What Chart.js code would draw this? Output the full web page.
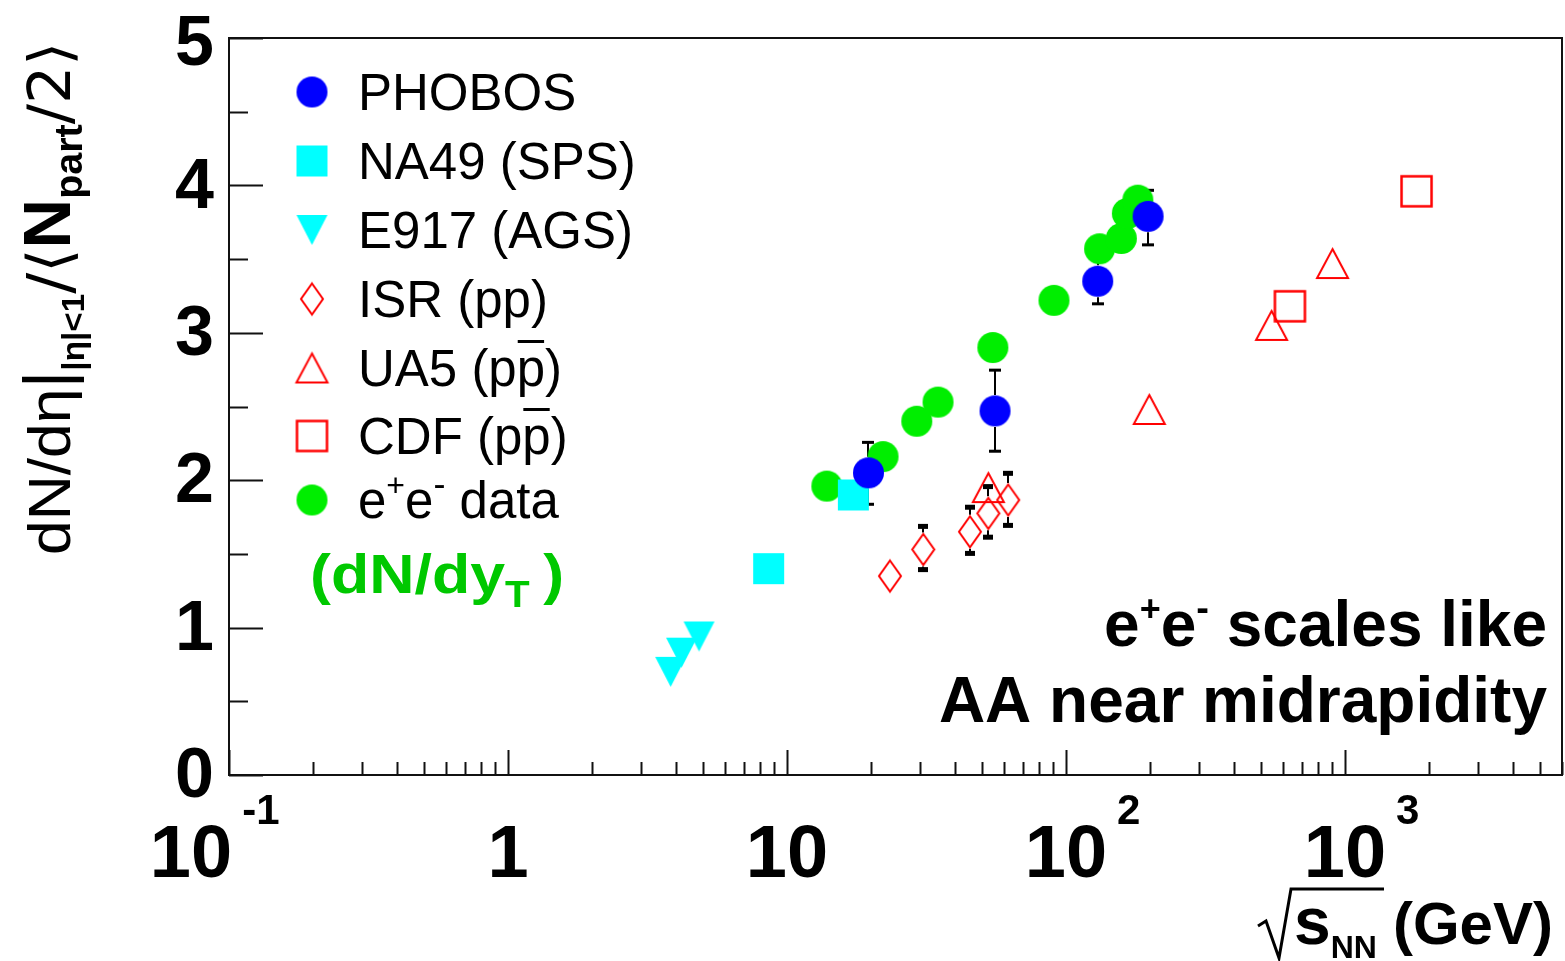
<!DOCTYPE html>
<html>
<head>
<meta charset="utf-8">
<script src="https://cdn.jsdelivr.net/npm/chart.js@4.4.1/dist/chart.umd.min.js"></script>
<style>
  html, body { margin: 0; padding: 0; background: #fff; }
  #wrap { width: 1565px; height: 961px; }
</style>
</head>
<body>
<div id="wrap"><canvas id="chart" width="1565" height="961"></canvas></div>
<script>
// ==========================================
// 1. DATA
// ==========================================

// PHOBOS (Au+Au)
const phobosX = [19.6, 55.7, 130, 197];
const phobosY = [2.05, 2.47, 3.35, 3.79];
const phobosLo = [1.84, 2.20, 3.20, 3.60];
const phobosHi = [2.26, 2.75, 3.51, 3.97];

// NA49 (SPS)
const na49X = [8.6, 17.3];
const na49Y = [1.40, 1.90];

// E917 (AGS)
const e917X = [3.83, 4.19, 4.84];
const e917Y = [0.70, 0.83, 0.94];

// ISR (pp)
const isrX = [23.4, 30.8, 45.3, 52.7, 62.1];
const isrY = [1.35, 1.53, 1.65, 1.775, 1.866];
const isrLo = [null, 1.39, 1.50, 1.61, 1.69];
const isrHi = [null, 1.69, 1.82, 1.96, 2.05];

// UA5 (p pbar)
const ua5X = [52.7, 199, 546, 903];
const ua5Y = [1.95, 2.48, 3.05, 3.47];

// CDF (p pbar)
const cdfX = [635, 1806];
const cdfY = [3.18, 3.96];

// e+e- data
const eeX = [13.9, 22.1, 29.2, 34.8, 54.7, 90.6, 132, 158, 166, 181];
const eeY = [1.96, 2.16, 2.40, 2.53, 2.90, 3.22, 3.57, 3.64, 3.81, 3.90];

// axis ticks
const xMajor = [0.1, 1, 10, 100, 1000];
const xTickBase = ['10', '1', '10', '10', '10'];
const xTickExp = ['-1', '', '', '2', '3'];
const yMajor = [0, 1, 2, 3, 4, 5];

// ==========================================
// 2. MARKERS (little canvases used as pointStyle)
// ==========================================
function makeMarker(kind, color, w, h) {
    const pad = 3;
    const c = document.createElement('canvas');
    c.width = w + pad * 2;
    c.height = h + pad * 2;
    const g = c.getContext('2d');
    g.translate(pad, pad);
    g.fillStyle = color;
    g.strokeStyle = color;
    g.lineWidth = 2;
    g.beginPath();
    if (kind === 'circle') {
        g.arc(w / 2, h / 2, w / 2, 0, Math.PI * 2);
        g.fill();
    } else if (kind === 'square') {
        g.fillRect(0, 0, w, h);
    } else if (kind === 'tridown') {
        g.moveTo(0, 0); g.lineTo(w, 0); g.lineTo(w / 2, h); g.closePath();
        g.fill();
    } else if (kind === 'diamond') {
        g.moveTo(w / 2, 1); g.lineTo(w - 1, h / 2); g.lineTo(w / 2, h - 1); g.lineTo(1, h / 2); g.closePath();
        g.stroke();
    } else if (kind === 'triup') {
        g.moveTo(w / 2, 1); g.lineTo(w - 1, h - 1); g.lineTo(1, h - 1); g.closePath();
        g.stroke();
    } else if (kind === 'opensquare') {
        g.lineWidth = 2.5;
        g.strokeRect(1.5, 1.5, w - 3, h - 3);
    }
    return c;
}

const mPhobos = makeMarker('circle', '#0000ff', 31, 31);
const mNa49 = makeMarker('square', '#00ffff', 31, 31);
const mE917 = makeMarker('tridown', '#00ffff', 31, 30);
const mIsr = makeMarker('diamond', '#ff0000', 24, 33);
const mUa5 = makeMarker('triup', '#ff0000', 33, 31);
const mCdf = makeMarker('opensquare', '#ff0000', 33, 33);
const mEe = makeMarker('circle', '#00ee00', 31, 31);

function pts(xs, ys) {
    return xs.map((x, i) => ({ x: x, y: ys[i] }));
}

// ==========================================
// 3. TEXT HELPERS
// ==========================================
const SANS = '"Liberation Sans", Arial, Helvetica, sans-serif';

// draw a run of text pieces one after another, returns end x
function drawRuns(ctx, x, y, runs, measureOnly) {
    let cx = x;
    runs.forEach(r => {
        ctx.font = r.f;
        const w = ctx.measureText(r.t).width;
        if (!measureOnly) {
            ctx.fillStyle = r.c || '#000';
            ctx.fillText(r.t, cx, y + (r.dy || 0));
            if (r.over) {
                ctx.fillRect(cx + 1, y + r.over, w - 2, 3);
            }
        }
        cx += w + (r.gap || 0);
    });
    return cx;
}

// ==========================================
// 4. PLUGIN: frame, ticks, labels, legend, error bars
// ==========================================
const rootStyle = {
    id: 'rootStyle',
    beforeDatasetsDraw(chart) {
        const ctx = chart.ctx;
        const xs = chart.scales.x, ys = chart.scales.y;
        ctx.save();
        ctx.strokeStyle = '#000';
        ctx.fillStyle = '#000';
        chart.data.datasets.forEach(ds => {
            if (!ds.errHi) return;
            ds.data.forEach((p, i) => {
                if (ds.errHi[i] == null) return;
                const px = Math.round(xs.getPixelForValue(p.x));
                const py = ys.getPixelForValue(p.y);
                const top = ys.getPixelForValue(ds.errHi[i]);
                const bot = ys.getPixelForValue(ds.errLo[i]);
                ctx.lineWidth = 2;
                if (top < py - ds.errGap) {
                    ctx.beginPath(); ctx.moveTo(px, py - ds.errGap); ctx.lineTo(px, top); ctx.stroke();
                }
                if (bot > py + ds.errGap) {
                    ctx.beginPath(); ctx.moveTo(px, py + ds.errGap); ctx.lineTo(px, bot); ctx.stroke();
                }
                if (ds.capStyle === 'block') {
                    ctx.fillRect(px - 5, top - 2, 10, 5);
                    ctx.fillRect(px - 5, bot - 3, 10, 5);
                } else {
                    ctx.fillRect(px - 6, top - 1, 12, 3);
                    ctx.fillRect(px - 6, bot - 1, 12, 3);
                }
            });
        });
        ctx.restore();
    },
    afterDraw(chart) {
        const ctx = chart.ctx;
        const area = chart.chartArea;
        const xs = chart.scales.x, ys = chart.scales.y;
        ctx.save();

        // frame
        ctx.strokeStyle = '#111';
        ctx.lineWidth = 2;
        ctx.strokeRect(area.left, area.top, area.right - area.left, area.bottom - area.top);

        // y ticks (inside)
        ctx.lineWidth = 2;
        for (let v = 0; v <= 5; v += 0.5) {
            const py = Math.round(ys.getPixelForValue(v)) + 0.5;
            const len = Number.isInteger(v) ? 34 : 19;
            ctx.beginPath(); ctx.moveTo(area.left, py); ctx.lineTo(area.left + len, py); ctx.stroke();
        }
        // x ticks (inside, log)
        xMajor.forEach(d => {
            for (let m = 1; m <= 9; m++) {
                const v = d * m;
                if (v > xs.max) break;
                const px = Math.round(xs.getPixelForValue(v)) + 0.5;
                const len = m === 1 ? 25 : 13;
                ctx.beginPath(); ctx.moveTo(px, area.bottom); ctx.lineTo(px, area.bottom - len); ctx.stroke();
            }
        });

        // y tick labels
        ctx.fillStyle = '#000';
        ctx.font = 'bold 70px ' + SANS;
        ctx.textAlign = 'right';
        ctx.textBaseline = 'middle';
        yMajor.forEach(v => {
            const py = ys.getPixelForValue(v);
            ctx.fillText(String(v), 214, py + (v === 5 ? 8 : 3));
        });

        // x tick labels
        ctx.textAlign = 'left';
        ctx.textBaseline = 'alphabetic';
        xMajor.forEach((v, i) => {
            const px = xs.getPixelForValue(v);
            ctx.font = 'bold 74px ' + SANS;
            const bw = ctx.measureText(xTickBase[i]).width;
            let x0 = px - bw / 2;
            if (xTickExp[i].startsWith('-')) x0 -= 38;
            ctx.fillText(xTickBase[i], x0, 877);
            if (xTickExp[i]) {
                ctx.font = 'bold 42px ' + SANS;
                ctx.fillText(xTickExp[i], x0 + bw + 10, 824);
            }
        });

        // x axis title: sqrt(s_NN) (GeV)
        ctx.strokeStyle = '#000';
        ctx.lineWidth = 3;
        ctx.beginPath();
        ctx.moveTo(1258, 926); ctx.lineTo(1266, 921); ctx.lineTo(1279, 958);
        ctx.lineTo(1291, 889); ctx.lineTo(1384, 889);
        ctx.stroke();
        drawRuns(ctx, 1294, 944, [
            { t: 's', f: 'bold 66px ' + SANS },
            { t: 'NN', f: 'bold 32px ' + SANS, dy: 14, gap: 16 },
            { t: '(GeV)', f: 'bold 60px ' + SANS }
        ]);

        // y axis title (rotated)
        const yRuns = [
            { t: 'dN/d', f: '60px ' + SANS },
            { t: 'η', f: '60px ' + SANS },
            { t: '|', f: '66px ' + SANS },
            { t: '|η|<1', f: 'bold 32px ' + SANS, dy: 14 },
            { t: '/⟨', f: '60px "DejaVu Sans", ' + SANS },
            { t: 'N', f: 'bold 66px ' + SANS },
            { t: 'part', f: 'bold 38px ' + SANS, dy: 12 },
            { t: '/2⟩', f: '58px "DejaVu Sans", ' + SANS }
        ];
        const total = drawRuns(ctx, 0, 0, yRuns, true);
        ctx.save();
        ctx.translate(70, 555);
        ctx.rotate(-Math.PI / 2);
        ctx.scale(513 / total, 1);
        drawRuns(ctx, 0, 0, yRuns);
        ctx.restore();

        // legend
        const legend = [
            { m: mPhobos, runs: [{ t: 'PHOBOS', f: '51px ' + SANS }] },
            { m: mNa49, runs: [{ t: 'NA49 (SPS)', f: '51px ' + SANS }] },
            { m: mE917, runs: [{ t: 'E917 (AGS)', f: '51px ' + SANS }] },
            { m: mIsr, runs: [{ t: 'ISR (pp)', f: '51px ' + SANS }] },
            { m: mUa5, runs: [{ t: 'UA5 (p', f: '51px ' + SANS }, { t: 'p', f: '51px ' + SANS, over: -46 }, { t: ')', f: '51px ' + SANS }] },
            { m: mCdf, runs: [{ t: 'CDF (p', f: '51px ' + SANS }, { t: 'p', f: '51px ' + SANS, over: -46 }, { t: ')', f: '51px ' + SANS }] },
            { m: mEe, runs: [{ t: 'e', f: '51px ' + SANS }, { t: '+', f: '32px ' + SANS, dy: -22 }, { t: 'e', f: '51px ' + SANS }, { t: '-', f: '36px ' + SANS, dy: -22 }, { t: ' data', f: '51px ' + SANS }] }
        ];
        const rowY = [92, 161, 230, 299, 368, 436, 500];
        legend.forEach((e, i) => {
            ctx.drawImage(e.m, 312 - e.m.width / 2, rowY[i] - e.m.height / 2);
            drawRuns(ctx, 358, rowY[i] + 18, e.runs);
        });

        // green note (a bit wider than the plain font, as in the original)
        const green = '#00c800';
        ctx.save();
        ctx.translate(310, 593);
        ctx.scale(1.12, 1);
        drawRuns(ctx, 0, 0, [
            { t: '(dN/dy', f: 'bold 56px ' + SANS, c: green },
            { t: 'T', f: 'bold 36px ' + SANS, c: green, dy: 14, gap: 12 },
            { t: ')', f: 'bold 56px ' + SANS, c: green }
        ]);
        ctx.restore();

        // annotation, right aligned
        const line1 = [
            { t: 'e', f: 'bold 64px ' + SANS },
            { t: '+', f: 'bold 36px ' + SANS, dy: -25 },
            { t: 'e', f: 'bold 64px ' + SANS },
            { t: '-', f: 'bold 38px ' + SANS, dy: -25 },
            { t: ' scales like', f: 'bold 64px ' + SANS }
        ];
        const w1 = drawRuns(ctx, 0, 0, line1, true);
        drawRuns(ctx, 1547 - w1, 646, line1);
        ctx.font = 'bold 64px ' + SANS;
        ctx.textAlign = 'right';
        ctx.fillText('AA near midrapidity', 1547, 722);

        ctx.restore();
    }
};

// ==========================================
// 5. CHART
// ==========================================
const ctx = document.getElementById('chart').getContext('2d');

new Chart(ctx, {
    type: 'scatter',
    data: {
        datasets: [
            { label: 'PHOBOS', data: pts(phobosX, phobosY), pointStyle: mPhobos, pointRadius: 16,
              errLo: phobosLo, errHi: phobosHi, errGap: 16, capStyle: 'line' },
            { label: 'NA49 (SPS)', data: pts(na49X, na49Y), pointStyle: mNa49, pointRadius: 16 },
            { label: 'E917 (AGS)', data: pts(e917X, e917Y), pointStyle: mE917, pointRadius: 16 },
            { label: 'ISR (pp)', data: pts(isrX, isrY), pointStyle: mIsr, pointRadius: 16,
              errLo: isrLo, errHi: isrHi, errGap: 17, capStyle: 'block' },
            { label: 'UA5 (ppbar)', data: pts(ua5X, ua5Y), pointStyle: mUa5, pointRadius: 16 },
            { label: 'CDF (ppbar)', data: pts(cdfX, cdfY), pointStyle: mCdf, pointRadius: 16 },
            { label: 'e+e- data', data: pts(eeX, eeY), pointStyle: mEe, pointRadius: 16 }
        ]
    },
    options: {
        responsive: false,
        animation: false,
        layout: { autoPadding: false, padding: { left: 229, right: 3, top: 38, bottom: 186 } },
        scales: {
            x: { type: 'logarithmic', min: 0.1, max: 6000, display: false },
            y: { type: 'linear', min: 0, max: 5, display: false }
        },
        plugins: {
            legend: { display: false },
            tooltip: { enabled: false }
        }
    },
    plugins: [rootStyle]
});
</script>
</body>
</html>
